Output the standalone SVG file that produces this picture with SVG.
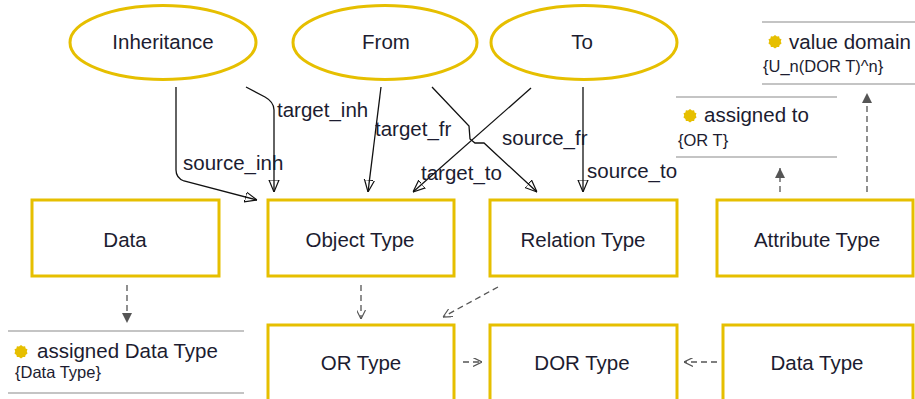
<svg xmlns="http://www.w3.org/2000/svg" width="915" height="399" viewBox="0 0 915 399">
<style>
  .node { fill: #ffffff; stroke: #e6bf00; stroke-width: 3; }
  .t { font-family: "Liberation Sans", Arial, sans-serif; font-size: 20.5px; fill: #1c1c30; }
  .s { font-family: "Liberation Sans", Arial, sans-serif; font-size: 16.5px; fill: #1c1c30; }
  .c { fill: none; stroke: #111; stroke-width: 1.3; }
  .d { fill: none; stroke: #555; stroke-width: 1.3; stroke-dasharray: 6 4; }
  .nl { stroke: #c4c4c4; stroke-width: 2; }
  .bul { fill: #e6bf00; }
</style>
<defs>
  <marker id="openTri" viewBox="0 0 12 12" refX="12" refY="6" markerWidth="12" markerHeight="12" markerUnits="userSpaceOnUse" orient="auto">
    <path d="M0,1 L12,6 L0,11 z" fill="none" stroke="#111" stroke-width="1.2"/>
  </marker>
  <marker id="fillTri" viewBox="0 0 10 10" refX="10" refY="5" markerWidth="11" markerHeight="10" markerUnits="userSpaceOnUse" orient="auto">
    <path d="M0,0 L10,5 L0,10 z" fill="#555"/>
  </marker>
  <marker id="openV" viewBox="0 0 10 10" refX="10" refY="5" markerWidth="9" markerHeight="9" markerUnits="userSpaceOnUse" orient="auto">
    <path d="M0,0 L10,5 L0,10" fill="none" stroke="#555" stroke-width="1.3"/>
  </marker>
  <polygon id="gear" points="0,-7 2,-5.4 4.1,-5.7 4.6,-3.6 6.5,-2.7 5.8,-0.7 6.5,1.4 4.6,2.9 4.1,5.1 2,5.1 0,6.5 -2,5.1 -4.1,5.1 -4.6,2.9 -6.5,1.4 -5.8,-0.7 -6.5,-2.7 -4.6,-3.6 -4.1,-5.7 -2,-5.4"/>
</defs>

<g id="connectors">
  <path class="c" d="M176,87 L176,170 Q176,178 184,181 L257,200" marker-end="url(#openTri)"/>
  <path class="c" d="M246,87 L265,97 Q274,102 274,110 L274,192" marker-end="url(#openTri)"/>
  <path class="c" d="M381,87 L368,192" marker-end="url(#openTri)"/>
  <path class="c" d="M432,87 L469,126 L470,139 L475,143 L484,143 L537,192" marker-end="url(#openTri)"/>
  <path class="c" d="M531,88 L413,192" marker-end="url(#openTri)"/>
  <path class="c" d="M583,87 L583,192" marker-end="url(#openTri)"/>
  <path class="d" d="M127,285 L127,323" marker-end="url(#fillTri)"/>
  <path class="d" d="M361,285 L361,319" marker-end="url(#openV)"/>
  <path class="d" d="M498,287 L443,317" marker-end="url(#openV)"/>
  <path class="d" d="M463,362 L482,362" marker-end="url(#openV)"/>
  <path class="d" d="M717,362 L684,362" marker-end="url(#openV)"/>
  <path class="d" d="M780,192 L780,168" marker-end="url(#fillTri)"/>
  <path class="d" d="M867,192 L867,93" marker-end="url(#fillTri)"/>
  <text class="t" x="183" y="170">source_inh</text>
  <text class="t" x="277" y="117">target_inh</text>
  <text class="t" x="375" y="136">target_fr</text>
  <text class="t" x="502" y="145">source_fr</text>
  <text class="t" x="421" y="180">target_to</text>
  <text class="t" x="587" y="178">source_to</text>
</g>

<g id="inheritance">
  <ellipse class="node" cx="163" cy="42.5" rx="93" ry="37"/>
  <text class="t" x="163" y="49" text-anchor="middle">Inheritance</text>
</g>
<g id="from">
  <ellipse class="node" cx="385" cy="42.5" rx="92" ry="37"/>
  <text class="t" x="386" y="49" text-anchor="middle">From</text>
</g>
<g id="to">
  <ellipse class="node" cx="584" cy="42.5" rx="93" ry="37"/>
  <text class="t" x="582" y="49" text-anchor="middle">To</text>
</g>

<g id="data">
  <rect class="node" x="32" y="200" width="187" height="76"/>
  <text class="t" x="125" y="247" text-anchor="middle">Data</text>
</g>
<g id="object-type">
  <rect class="node" x="268" y="200" width="186" height="76"/>
  <text class="t" x="360" y="247" text-anchor="middle">Object Type</text>
</g>
<g id="relation-type">
  <rect class="node" x="490" y="200" width="187" height="76"/>
  <text class="t" x="583" y="247" text-anchor="middle">Relation Type</text>
</g>
<g id="attribute-type">
  <rect class="node" x="717" y="200" width="196" height="76"/>
  <text class="t" x="817" y="247" text-anchor="middle">Attribute Type</text>
</g>
<g id="or-type">
  <rect class="node" x="268" y="325" width="186" height="85"/>
  <text class="t" x="361" y="370" text-anchor="middle">OR Type</text>
</g>
<g id="dor-type">
  <rect class="node" x="490" y="325" width="187" height="85"/>
  <text class="t" x="582" y="370" text-anchor="middle">DOR Type</text>
</g>
<g id="data-type">
  <rect class="node" x="723" y="325" width="190" height="85"/>
  <text class="t" x="817" y="370" text-anchor="middle">Data Type</text>
</g>

<g id="note-value-domain">
  <line class="nl" x1="762" y1="22" x2="915" y2="22"/>
  <line class="nl" x1="762" y1="84" x2="915" y2="84"/>
  <use href="#gear" class="bul" x="775" y="42"/>
  <text class="t" x="789" y="49">value domain</text>
  <text class="s" x="763" y="72">{U_n(DOR T)^n}</text>
</g>
<g id="note-assigned-to">
  <line class="nl" x1="676" y1="97" x2="837" y2="97"/>
  <line class="nl" x1="676" y1="157" x2="837" y2="157"/>
  <use href="#gear" class="bul" x="690" y="116"/>
  <text class="t" x="704" y="122">assigned to</text>
  <text class="s" x="678" y="146">{OR T}</text>
</g>
<g id="note-assigned-data-type">
  <line class="nl" x1="8" y1="331" x2="244" y2="331"/>
  <line class="nl" x1="8" y1="393" x2="244" y2="393"/>
  <use href="#gear" class="bul" x="21" y="352"/>
  <text class="t" x="37" y="358">assigned Data Type</text>
  <text class="s" x="15" y="378">{Data Type}</text>
</g>
</svg>
